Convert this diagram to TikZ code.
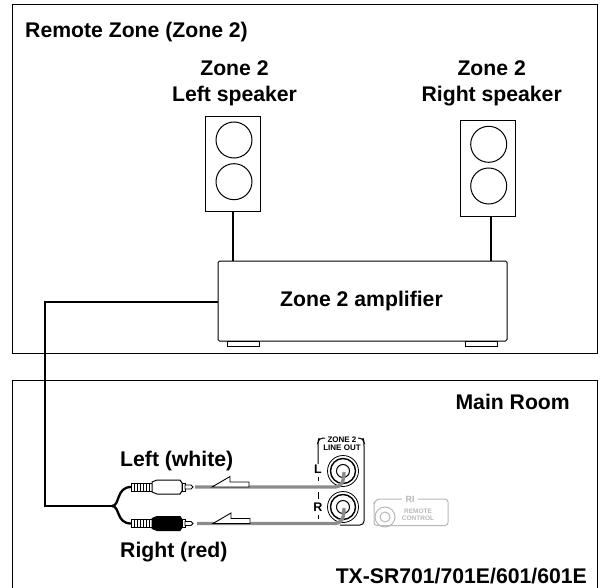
\documentclass[tikz,border=0pt]{standalone}
\usepackage{fontspec}
\setmainfont{Liberation Sans}
\definecolor{cordgray}{gray}{0.55}
\definecolor{faintgray}{gray}{0.72}
\tikzset{
    every node/.style={font=\bfseries\fontsize{21.2}{26}\selectfont,align=center},
    zonebox/.style={draw,line width=1pt},
    wire/.style={line width=2.3pt},
    cord/.style={line width=3.4pt,cordgray},
    spkbox/.style={draw,line width=1pt,minimum width=54.5pt,minimum height=95.5pt,inner sep=0pt},
    spkcone/.style={draw,circle,line width=1pt,minimum size=36pt,inner sep=0pt},
    smalllabel/.style={font=\bfseries\fontsize{8}{8}\selectfont,inner sep=0pt},
    faintlabel/.style={font=\bfseries\fontsize{6.5}{7}\selectfont,faintgray,inner sep=0pt},
    jacklabel/.style={font=\bfseries\fontsize{12.5}{13}\selectfont,inner sep=0pt},
}
\begin{document}
\begin{tikzpicture}[x=1pt,y=-1pt]
    \useasboundingbox (0,0) rectangle (602,588);
    % rooms
    \draw[zonebox] (12,5) rectangle (597.5,353.5);
    \draw[zonebox] (12,588) -- (12,380) -- (597.5,380) -- (597.5,588);
    \node[anchor=base west,inner sep=0pt] (remote) at (25,38) {Remote Zone (Zone 2)};
    \node[anchor=base east,inner sep=0pt] (main) at (570,409) {Main Room};
    \node[anchor=base east,inner sep=0pt] (model) at (587,583) {TX-SR701/701E/601/601E};
    % speakers
    \node[anchor=base,inner sep=0pt] (leftlabel) at (234.5,101.6) {Zone 2\\Left speaker};
    \node[anchor=base,inner sep=0pt] (rightlabel) at (491.7,101.6) {Zone 2\\Right speaker};
    \node[spkbox] (leftspk) at (233,164) {};
    \node[spkbox] (rightspk) at (488,168.3) {};
    \node[spkcone] (leftspka) at (234,140) {};
    \node[spkcone] (leftspkb) at (234,181.7) {};
    \node[spkcone] (rightspka) at (488.7,144.3) {};
    \node[spkcone] (rightspkb) at (488.7,186) {};
    % amplifier
    \draw[line width=1pt,fill=white] (227,341) rectangle (259,346);
    \draw[line width=1pt,fill=white] (465,341) rectangle (497,346);
    \node[draw,line width=1pt,rounded corners=1.5pt,minimum width=289pt,minimum height=80pt,inner sep=0pt] (amp) at (362.5,301) {};
    \node[anchor=base,inner sep=0pt] (amplabel) at (361.5,306) {Zone 2 amplifier};
    \coordinate (lefttop) at (233,212);
    \coordinate (righttop) at (491,216);
    \draw[wire] (lefttop) -- (lefttop |- amp.north);
    \draw[wire] (righttop) -- (righttop |- amp.north);
    % cable to the plugs
    \coordinate (fork) at (112,506);
    \coordinate (bend) at (45,302);
    \draw[wire] (amp.west |- bend) -- (bend) -- (bend |- fork) -- (fork);
    \coordinate (lplug) at (131,487);
    \coordinate (rplug) at (131,523.5);
    \draw[wire] (fork) .. controls (120,506) and (116,487) .. (lplug);
    \draw[wire] (fork) .. controls (120,506) and (116,523.5) .. (rplug);
    % plugs
    \foreach \py/\col in {487/white,523.5/black} {
        \draw[line width=0.8pt,fill=white] (131,\py-4) rectangle (152,\py+4);
        \foreach \i in {134,137,...,150} \draw[line width=1pt] (\i,\py-3.5) -- (\i,\py+3.5);
        \draw[line width=1pt,fill=\col] (152,\py-5) -- (157,\py-7) -- (180,\py-7) -- (182,\py-4) -- (182,\py+4) -- (180,\py+7) -- (157,\py+7) -- (152,\py+5) -- cycle;
        \draw[line width=0.8pt,fill=white] (182,\py-4) rectangle (185,\py+4);
        \draw[line width=0.8pt,fill=white] (185,\py-2) -- (191,\py-2) -- (193,\py) -- (191,\py+2) -- (185,\py+2) -- cycle;
    }
    % jacks and panel
    \draw[line width=1pt,rounded corners=4pt] (325,438) -- (319,438) -- (318,442) -- (318,470);
    \draw[line width=1pt,rounded corners=4pt] (358,438) -- (363,438) -- (364,442) -- (364,525) -- (340,525);
    \node[smalllabel] (zonetwo) at (342,440) {ZONE 2};
    \node[smalllabel] (lineout) at (342,448) {LINE OUT};
    \node[jacklabel,fill=white,inner ysep=1pt] (ljack) at (318,469) {L};
    \node[jacklabel,fill=white] (rjack) at (318,507) {R};
    \draw[line width=1pt] (318,477) -- (318,481);
    \draw[line width=1pt] (318,492) -- (318,499);
    \draw[line width=1pt] (318,515) -- (318,519);
    \foreach \jy/\jn in {471/lj,507/rj} {
        \node[draw,circle,line width=0.8pt,minimum size=31pt,inner sep=0pt] (\jn o) at (343,\jy) {};
        \node[draw,circle,line width=1.4pt,minimum size=25pt,inner sep=0pt] (\jn m) at (343,\jy) {};
        \node[draw,circle,line width=1pt,minimum size=13pt,inner sep=0pt] (\jn i) at (343,\jy) {};
    }
    % cords
    \draw[cord] (195,487) -- (335,487) .. controls (341,487) and (344,482) .. (344,472);
    \draw[cord] (197,523.5) -- (335,523.5) .. controls (341,523.5) and (344,519) .. (344,508);
    \foreach \ax/\py in {212/487,213/523.5} {
        \draw[line width=0.9pt,fill=white] (\ax,\py) -- (\ax+18,\py-10.5) -- (\ax+18,\py-5) -- (\ax+37,\py-5) -- (\ax+37,\py) -- cycle;
    }
    % remote control jack
    \draw[faintgray,line width=1pt,rounded corners=3pt] (402,499) -- (377,499) -- (374,503) -- (374,525.5) -- (448,525.5) -- (448,499) -- (418,499);
    \node[faintlabel,font=\bfseries\fontsize{9}{9}\selectfont] (ri) at (410,499) {RI};
    \node[faintlabel] (remotectl) at (418,511) {REMOTE};
    \node[faintlabel] (controlctl) at (418,518) {CONTROL};
    \node[draw=faintgray,circle,line width=1pt,minimum size=20pt,inner sep=0pt] (riout) at (385,517) {};
    \node[draw=faintgray,circle,line width=1pt,minimum size=10pt,inner sep=0pt] (riin) at (385,517) {};
    % cord labels
    \node[anchor=base west,inner sep=0pt] (whitelabel) at (120,466.7) {Left (white)};
    \node[anchor=base west,inner sep=0pt] (redlabel) at (120,557) {Right (red)};
\end{tikzpicture}
\end{document}
